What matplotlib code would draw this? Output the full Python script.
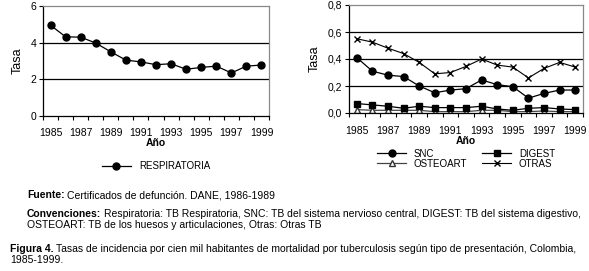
import matplotlib
matplotlib.use("Agg")
import matplotlib.pyplot as plt
import numpy as np

plt.rcParams['font.family'] = ['Liberation Sans', 'DejaVu Sans']

years = list(range(1985, 2000))
respiratoria = [4.95, 4.32, 4.30, 3.98, 3.50, 3.05, 2.95, 2.80, 2.85, 2.55, 2.65, 2.72, 2.35, 2.72, 2.78]
snc = [0.41, 0.31, 0.28, 0.27, 0.20, 0.15, 0.17, 0.18, 0.245, 0.21, 0.195, 0.11, 0.145, 0.17, 0.17]
otras = [0.55, 0.525, 0.48, 0.44, 0.375, 0.29, 0.30, 0.345, 0.40, 0.355, 0.34, 0.26, 0.33, 0.375, 0.34]
digest = [0.07, 0.06, 0.05, 0.035, 0.05, 0.04, 0.04, 0.04, 0.05, 0.03, 0.02, 0.035, 0.04, 0.03, 0.025]
osteoart = [0.025, 0.02, 0.02, 0.02, 0.02, 0.01, 0.01, 0.01, 0.02, 0.02, 0.01, 0.01, 0.015, 0.01, 0.01]
tick_labels = [str(y) for y in years[::2]]

W, H = 589, 271
fig = plt.figure(figsize=(W/100, H/100), dpi=100)

def ax_rect(x0, y0, x1, y1):
    return [x0/W, 1 - y1/H, (x1-x0)/W, (y1-y0)/H]

x = np.arange(len(years)) + 0.5
fs = 7.5

def style(ax, ymax, step, fmt):
    ax.set_xlim(0, len(years))
    ax.set_ylim(0, ymax)
    yt = np.arange(0, ymax + step/2, step)
    ax.set_yticks(yt)
    ax.set_yticklabels([fmt(v) for v in yt], fontsize=fs)
    for v in yt[1:-1]:
        ax.axhline(v, color='black', lw=0.9, zorder=0)
    ax.set_xticks(np.arange(0, len(years)+1), minor=False)
    ax.set_xticklabels([])
    ax.set_xticks(x[::2], minor=True)
    ax.set_xticklabels(tick_labels, minor=True, fontsize=fs)
    ax.tick_params(axis='x', which='minor', length=0, pad=9)
    ax.tick_params(axis='x', which='major', length=3, width=0.8, direction='out')
    ax.tick_params(axis='y', length=3, width=0.8, pad=2)
    for s in ['top', 'right']:
        ax.spines[s].set_color('#888888')
        ax.spines[s].set_linewidth(0.9)
    for s in ['left', 'bottom']:
        ax.spines[s].set_color('black')
        ax.spines[s].set_linewidth(0.9)
    ax.set_ylabel('Tasa', fontsize=9, labelpad=5)
    ax.set_xlabel('Año', fontsize=7.5, fontweight='bold', labelpad=0)

ax1 = fig.add_axes(ax_rect(43, 6, 269, 116))
ax1.plot(x, respiratoria, color='black', lw=0.9, marker='o', ms=5, label='RESPIRATORIA')
style(ax1, 6, 2, lambda v: f"{int(v)}")
ax1.legend(loc='upper center', bbox_to_anchor=(0.5, -0.33), frameon=False, fontsize=7,
           handlelength=3, ncol=1)

ax2 = fig.add_axes(ax_rect(349, 5, 583, 113))
ax2.plot(x, snc, color='black', lw=0.9, marker='o', ms=5, label='SNC')
ax2.plot(x, osteoart, color='#444444', lw=0.9, marker='^', ms=5, mfc='white', mec='#333333', label='OSTEOART')
ax2.plot(x, digest, color='black', lw=0.9, marker='s', ms=5, label='DIGEST')
ax2.plot(x, otras, color='black', lw=0.8, marker='x', ms=5, label='OTRAS')
style(ax2, 0.8, 0.2, lambda v: f"{v:.1f}".replace('.', ','))
ax2.legend(loc='upper center', bbox_to_anchor=(0.5, -0.25), frameon=False, fontsize=7,
           handlelength=3, ncol=2, labelspacing=0.0, columnspacing=1.5, handletextpad=0.8)

renderer = fig.canvas.get_renderer()

def rich(xpx, ypx, bold, normal):
    xf = xpx / W
    yf = 1 - ypx / H
    if bold:
        t = fig.text(xf, yf, bold, fontsize=fs, fontweight='bold', va='baseline')
        bb = t.get_window_extent(renderer=renderer)
        xf = bb.x1 / W + 2.5 / W
    fig.text(xf, yf, normal, fontsize=fs, va='baseline')

rich(27, 198, "Fuente:", "Certificados de defunción. DANE, 1986-1989")
rich(27, 217, "Convenciones:", "Respiratoria: TB Respiratoria, SNC: TB del sistema nervioso central, DIGEST: TB del sistema digestivo,")
rich(27, 228, None, "OSTEOART: TB de los huesos y articulaciones, Otras: Otras TB")
rich(10, 252, "Figura 4.", "Tasas de incidencia por cien mil habitantes de mortalidad por tuberculosis según tipo de presentación, Colombia,")
rich(10, 263, None, "1985-1999.")

fig.savefig('out.png', dpi=100)
